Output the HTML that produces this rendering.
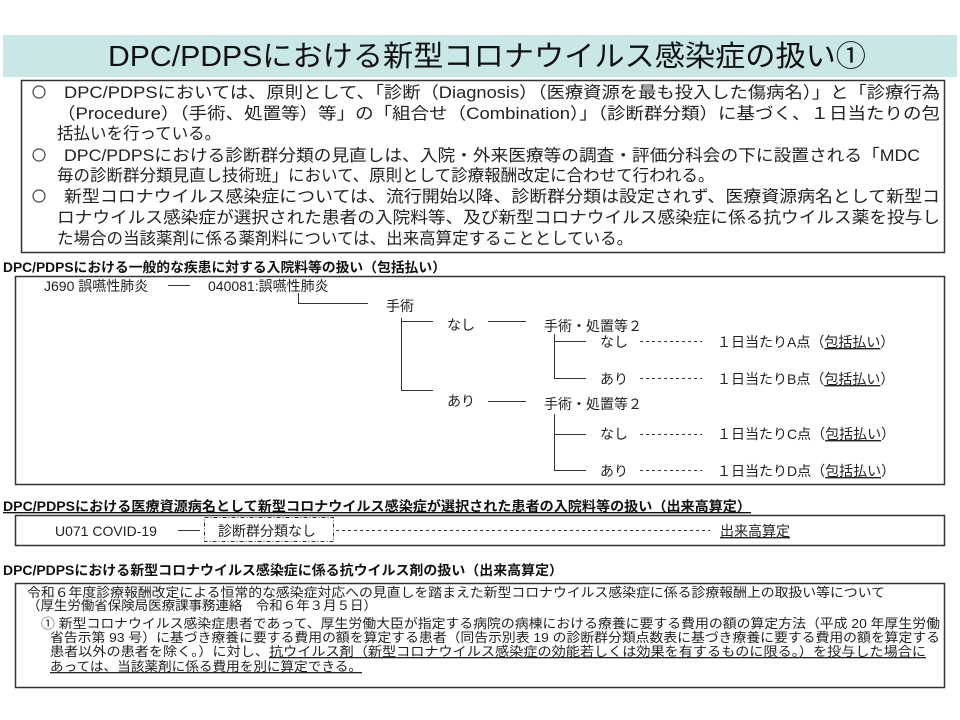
<!DOCTYPE html>
<html><head><meta charset="utf-8"><style>
html,body{margin:0;padding:0;background:#fff;}
svg{display:block;font-family:"Liberation Sans","Noto Sans CJK JP",sans-serif;}
</style></head><body>
<svg width="960" height="720" viewBox="0 0 960 720" xmlns="http://www.w3.org/2000/svg">
<rect x="3" y="35" width="954" height="42" fill="#c9e7e7"/>
<text x="108" y="66" font-size="29" fill="#111" textLength="758" lengthAdjust="spacingAndGlyphs">DPC/PDPSにおける新型コロナウイルス感染症の扱い①</text>

<rect x="21.5" y="80.5" width="923" height="172" fill="none" stroke="#333" stroke-width="1.5"/>
<g fill="none" stroke="#444" stroke-width="1.2">
<circle cx="39" cy="92" r="6"/>
<circle cx="39" cy="155" r="6"/>
<circle cx="39" cy="196" r="6"/>
</g>
<g font-size="16.5" fill="#222">
<text x="64" y="98" textLength="876" lengthAdjust="spacingAndGlyphs">DPC/PDPSにおいては、原則として、「診断（Diagnosis）（医療資源を最も投入した傷病名）」と「診療行為</text>
<text x="57" y="119" textLength="883" lengthAdjust="spacingAndGlyphs">（Procedure）（手術、処置等）等」の「組合せ（Combination）」（診断群分類）に基づく、１日当たりの包</text>
<text x="57" y="139">括払いを行っている。</text>
<text x="64" y="161" textLength="856" lengthAdjust="spacingAndGlyphs">DPC/PDPSにおける診断群分類の見直しは、入院・外来医療等の調査・評価分科会の下に設置される「MDC</text>
<text x="57" y="181">毎の診断群分類見直し技術班」において、原則として診療報酬改定に合わせて行われる。</text>
<text x="64" y="202" textLength="876" lengthAdjust="spacingAndGlyphs">新型コロナウイルス感染症については、流行開始以降、診断群分類は設定されず、医療資源病名として新型コ</text>
<text x="57" y="223" textLength="883" lengthAdjust="spacingAndGlyphs">ロナウイルス感染症が選択された患者の入院料等、及び新型コロナウイルス感染症に係る抗ウイルス薬を投与し</text>
<text x="57" y="244">た場合の当該薬剤に係る薬剤料については、出来高算定することとしている。</text>
</g>

<text x="3" y="272" font-size="13.5" font-weight="bold" fill="#111" textLength="443" lengthAdjust="spacingAndGlyphs">DPC/PDPSにおける一般的な疾患に対する入院料等の扱い（包括払い）</text>
<rect x="15.5" y="276.5" width="929" height="208" fill="none" stroke="#333" stroke-width="1.5"/>
<g font-size="14" fill="#222">
<text x="44" y="291">J690 誤嚥性肺炎</text>
<text x="208" y="291">040081:誤嚥性肺炎</text>
<text x="386" y="311">手術</text>
<text x="447" y="330">なし</text>
<text x="447" y="406">あり</text>
<text x="544" y="331">手術・処置等２</text>
<text x="544" y="409">手術・処置等２</text>
<text x="600" y="347">なし</text>
<text x="600" y="384">あり</text>
<text x="600" y="439">なし</text>
<text x="600" y="476">あり</text>
<text x="717" y="347">１日当たりA点（<tspan text-decoration="underline">包括払い</tspan>）</text>
<text x="717" y="384">１日当たりB点（<tspan text-decoration="underline">包括払い</tspan>）</text>
<text x="717" y="439">１日当たりC点（<tspan text-decoration="underline">包括払い</tspan>）</text>
<text x="717" y="476">１日当たりD点（<tspan text-decoration="underline">包括払い</tspan>）</text>
</g>
<g stroke="#333" stroke-width="1" fill="none">
<line x1="168" y1="285.5" x2="190" y2="285.5"/>
<polyline points="298.5,293 298.5,303.5 368,303.5"/>
<polyline points="401.5,318 401.5,390.5 433,390.5"/>
<line x1="401.5" y1="321.5" x2="433" y2="321.5"/>
<line x1="488" y1="321.5" x2="526" y2="321.5"/>
<line x1="488" y1="401.5" x2="526" y2="401.5"/>
<polyline points="554.5,334 554.5,378.5 586,378.5"/>
<line x1="554.5" y1="341.5" x2="586" y2="341.5"/>
<polyline points="554.5,414 554.5,470.5 586,470.5"/>
<line x1="554.5" y1="434.5" x2="586" y2="434.5"/>
<g stroke-dasharray="3,3">
<line x1="640" y1="341.5" x2="702" y2="341.5"/>
<line x1="640" y1="378.5" x2="702" y2="378.5"/>
<line x1="640" y1="434.5" x2="702" y2="434.5"/>
<line x1="640" y1="470.5" x2="702" y2="470.5"/>
</g>
</g>

<text x="3" y="511" font-size="13.5" font-weight="bold" fill="#111" text-decoration="underline" textLength="748" lengthAdjust="spacingAndGlyphs">DPC/PDPSにおける医療資源病名として新型コロナウイルス感染症が選択された患者の入院料等の扱い（出来高算定）</text>
<rect x="15.5" y="515.5" width="929" height="30" fill="none" stroke="#333" stroke-width="1.5"/>
<text x="55" y="536" font-size="14" fill="#222">U071 COVID-19</text>
<line x1="178" y1="530.5" x2="200" y2="530.5" stroke="#333"/>
<rect x="204.5" y="517.5" width="129" height="24" fill="none" stroke="#333" stroke-dasharray="4,2,1,2"/>
<text x="218" y="536" font-size="14" fill="#222">診断群分類なし</text>
<line x1="336" y1="530.5" x2="710" y2="530.5" stroke="#333" stroke-dasharray="3,3"/>
<text x="720" y="536" font-size="14" fill="#222" text-decoration="underline">出来高算定</text>

<text x="3" y="575" font-size="13.5" font-weight="bold" fill="#111" textLength="560" lengthAdjust="spacingAndGlyphs">DPC/PDPSにおける新型コロナウイルス感染症に係る抗ウイルス剤の扱い（出来高算定）</text>
<rect x="15.5" y="583.5" width="929" height="104" fill="none" stroke="#333" stroke-width="1.5"/>
<g font-size="13" fill="#222">
<text x="27" y="597" textLength="858" lengthAdjust="spacingAndGlyphs">令和６年度診療報酬改定による恒常的な感染症対応への見直しを踏まえた新型コロナウイルス感染症に係る診療報酬上の取扱い等について</text>
<text x="27" y="610" textLength="350" lengthAdjust="spacingAndGlyphs">（厚生労働省保険局医療課事務連絡　令和６年３月５日）</text>
<text x="41" y="628" textLength="899" lengthAdjust="spacingAndGlyphs">① 新型コロナウイルス感染症患者であって、厚生労働大臣が指定する病院の病棟における療養に要する費用の額の算定方法（平成 20 年厚生労働</text>
<text x="50" y="642" textLength="890" lengthAdjust="spacingAndGlyphs">省告示第 93 号）に基づき療養に要する費用の額を算定する患者（同告示別表 19 の診断群分類点数表に基づき療養に要する費用の額を算定する</text>
<text x="50" y="656" textLength="876" lengthAdjust="spacingAndGlyphs">患者以外の患者を除く。）に対し、<tspan text-decoration="underline">抗ウイルス剤（新型コロナウイルス感染症の効能若しくは効果を有するものに限る。）を投与した場合に</tspan></text>
<text x="50" y="671" textLength="312" lengthAdjust="spacingAndGlyphs" text-decoration="underline">あっては、当該薬剤に係る費用を別に算定できる。</text>
</g>
</svg>
</body></html>
